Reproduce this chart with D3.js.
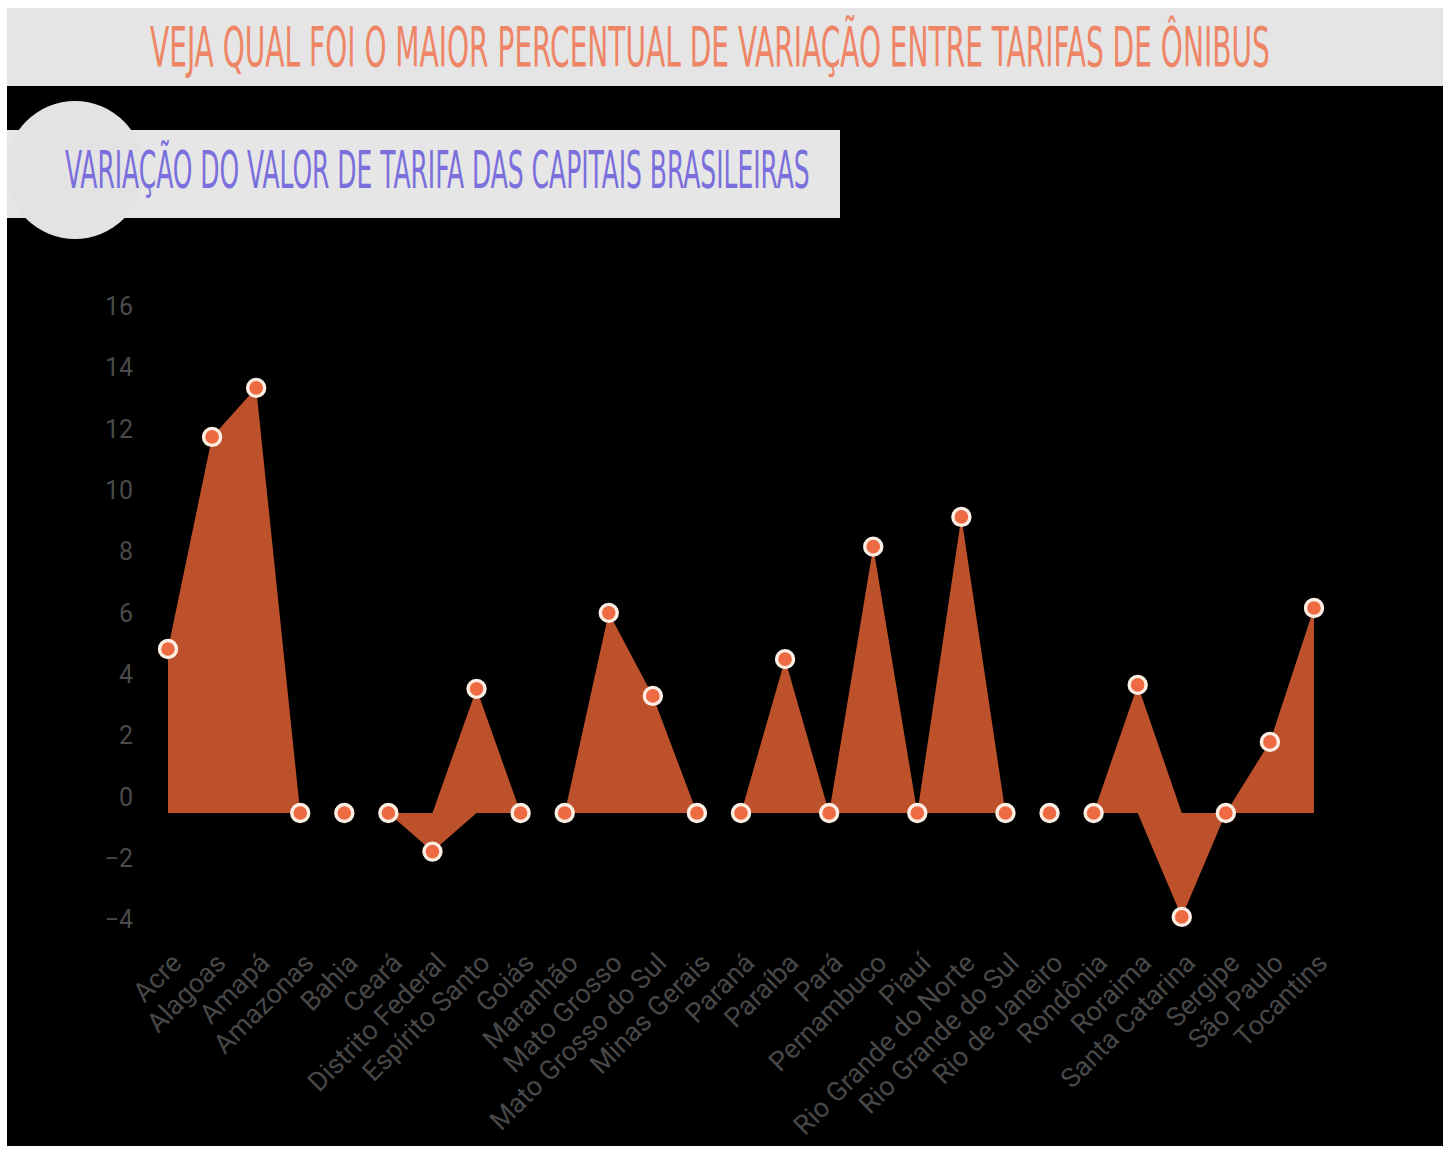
<!DOCTYPE html>
<html>
<head>
<meta charset="utf-8">
<script src="https://cdn.jsdelivr.net/npm/d3@7"></script>
<style>
  html, body { margin: 0; padding: 0; background: #ffffff; }
  svg { display: block; }
</style>
</head>
<body>
<svg id="chart" width="1443" height="1151"></svg>
<script>
const categories = ["Acre","Alagoas","Amapá","Amazonas","Bahia","Ceará","Distrito Federal","Espírito Santo","Goiás","Maranhão","Mato Grosso","Mato Grosso do Sul","Minas Gerais","Paraná","Paraíba","Pará","Pernambuco","Piauí","Rio Grande do Norte","Rio Grande do Sul","Rio de Janeiro","Rondônia","Roraima","Santa Catarina","Sergipe","São Paulo","Tocantins"];
const values = [5.35, 12.27, 13.87, 0, 0, 0, -1.26, 4.05, 0, 0, 6.53, 3.82, 0, 0, 5.02, 0, 8.69, 0, 9.66, 0, 0, 0, 4.18, -3.39, 0, 2.32, 6.69];
const yTicks = [-4, -2, 0, 2, 4, 6, 8, 10, 12, 14, 16];
const titleText = "Veja qual foi o maior percentual de variação entre tarifas de Ônibus";
const subtitleText = "Variação do valor de tarifa das capitais brasileiras";

const svg = d3.select("#chart");
const W = 1443, H = 1151;

// backgrounds
svg.append("rect").attr("x", 0).attr("y", 0).attr("width", W).attr("height", H).attr("fill", "#ffffff");
svg.append("rect").attr("x", 7).attr("y", 8).attr("width", W - 7).attr("height", 78).attr("fill", "#e5e5e5");
svg.append("rect").attr("x", 7).attr("y", 86).attr("width", W - 7).attr("height", 1060).attr("fill", "#000000");

const condensed = "'Liberation Sans Narrow','DejaVu Sans Condensed','Roboto',sans-serif";

// condensed heading: natural text squeezed horizontally to a target width
function squeezedText(str, left, baseline, size, color, targetWidth) {
  const t = svg.append("text")
    .attr("x", 0).attr("y", 0)
    .attr("font-family", condensed)
    .attr("font-size", size)
    .style("text-transform", "uppercase")
    .attr("fill", color)
    .text(str);
  const natural = t.node().getComputedTextLength();
  const sx = targetWidth / natural;
  t.attr("transform", `translate(${left},${baseline}) scale(${sx},1)`);
  return t;
}

squeezedText(titleText, 150, 66, 56, "#ee8566", 1120);

// subtitle badge
svg.append("rect").attr("x", 7).attr("y", 130).attr("width", 833).attr("height", 88).attr("fill", "#e6e6e6");
svg.append("circle").attr("cx", 75).attr("cy", 170).attr("r", 69).attr("fill", "#e3e3e3");
svg.append("rect").attr("x", 0).attr("y", 86).attr("width", 7).attr("height", 180).attr("fill", "#ffffff");
squeezedText(subtitleText, 65, 188, 51, "#7a6fdc", 745);

// scales
const x = d3.scalePoint().domain(categories).range([168, 1314]);
const y = d3.scaleLinear().domain([-4, 16]).range([935.6, 322.6]);

const g = svg.append("g");

// y axis labels (drawn slightly above their value line, as in the source)
const yAxis = d3.axisLeft(y).tickValues(yTicks).tickSize(0).tickPadding(0);
const yg = svg.append("g").attr("transform", "translate(133,-16)").call(yAxis);
yg.select(".domain").remove();
yg.selectAll("text")
  .attr("fill", "#4a4a4a")
  .attr("font-family", "Roboto, sans-serif")
  .attr("font-size", 25);

// areas: positive part and negative part drawn separately
const data = categories.map((c, i) => ({ c, v: values[i] }));
const areaPos = d3.area().x(d => x(d.c)).y0(y(0)).y1(d => y(Math.max(0, d.v)));
const areaNeg = d3.area().x(d => x(d.c)).y0(y(0)).y1(d => y(Math.min(0, d.v)));
g.append("path").datum(data).attr("d", areaPos).attr("fill", "#bd512b");
g.append("path").datum(data).attr("d", areaNeg).attr("fill", "#bd512b");

// points
g.selectAll("circle.pt").data(data).enter().append("circle")
  .attr("class", "pt")
  .attr("cx", d => x(d.c)).attr("cy", d => y(d.v))
  .attr("r", 8.5)
  .attr("fill", "#ee6a42")
  .attr("stroke", "#fdeee4")
  .attr("stroke-width", 3.4);

// x axis labels
const xAxis = d3.axisBottom(x).tickSize(0).tickPadding(0);
const xg = svg.append("g").attr("transform", "translate(0,958)").call(xAxis);
xg.select(".domain").remove();
xg.selectAll("text")
  .attr("fill", "#484848")
  .attr("font-family", "Roboto, sans-serif")
  .attr("font-size", 27)
  .attr("text-anchor", "end")
  .attr("dy", "0.35em")
  .attr("transform", "translate(8,0) rotate(-45)");
</script>
</body>
</html>
